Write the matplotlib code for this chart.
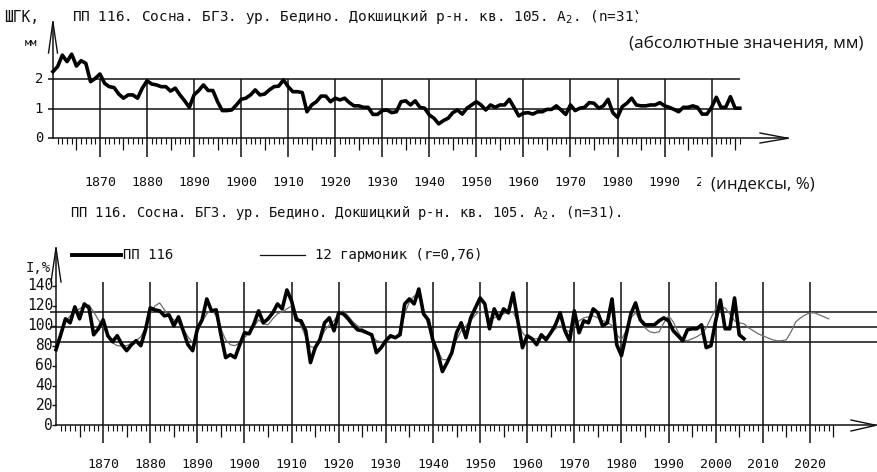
import numpy as np
import matplotlib
matplotlib.use("Agg")
import matplotlib.pyplot as plt
from matplotlib.patches import Rectangle
from matplotlib.transforms import Bbox

W, H = 877, 472
CAD = "DejaVu Sans Mono"
SANS = "Open Sans"
INK = "#111111"

# ---------------- data ----------------
years_obs = np.arange(1860, 2007)
ring_mm = [
    2.26, 2.43, 2.82, 2.60, 2.85, 2.45, 2.63, 2.54, 1.92, 2.03,   # 1860s
    2.18, 1.86, 1.75, 1.72, 1.50, 1.36, 1.47, 1.47, 1.36, 1.70,   # 1870s
    1.95, 1.84, 1.81, 1.75, 1.75, 1.60, 1.70, 1.47, 1.27, 1.05,   # 1880s
    1.47, 1.62, 1.81, 1.62, 1.62, 1.24, 0.94, 0.94, 0.96, 1.13,   # 1890s
    1.32, 1.36, 1.47, 1.64, 1.47, 1.50, 1.64, 1.75, 1.77, 1.98,   # 1900s
    1.75, 1.58, 1.58, 1.55, 0.90, 1.13, 1.24, 1.43, 1.43, 1.24,   # 1910s
    1.36, 1.30, 1.36, 1.21, 1.10, 1.10, 1.05, 1.05, 0.81, 0.81,   # 1920s
    0.94, 0.96, 0.87, 0.90, 1.24, 1.27, 1.13, 1.27, 1.05, 1.02,   # 1930s
    0.79, 0.68, 0.49, 0.60, 0.68, 0.87, 0.96, 0.82, 1.02, 1.13,   # 1940s
    1.24, 1.13, 0.96, 1.13, 1.05, 1.13, 1.13, 1.32, 1.05, 0.76,   # 1950s
    0.85, 0.87, 0.82, 0.90, 0.90, 0.98, 0.98, 1.10, 0.96, 0.81,   # 1960s
    1.13, 0.94, 1.02, 1.05, 1.21, 1.19, 1.02, 1.10, 1.32, 0.87,   # 1970s
    0.71, 1.07, 1.19, 1.36, 1.13, 1.10, 1.10, 1.13, 1.13, 1.21,   # 1980s
    1.10, 1.05, 0.98, 0.90, 1.05, 1.05, 1.10, 1.05, 0.82, 0.82,   # 1990s
    1.05, 1.39, 1.05, 1.05, 1.41, 1.02, 1.02,                     # 2000s
]
index_pct = [
    76, 91, 107, 103, 119, 107, 122, 118, 91, 97,
    106, 90, 84, 90, 81, 75, 81, 85, 80, 96,
    118, 116, 115, 110, 111, 100, 109, 95, 81, 75,
    97, 106, 127, 115, 116, 91, 68, 71, 68, 81,
    93, 92, 102, 115, 103, 107, 113, 122, 117, 136,
    125, 106, 105, 95, 63, 78, 86, 103, 108, 95,
    113, 112, 107, 101, 96, 95, 93, 91, 73, 78,
    85, 90, 88, 91, 122, 127, 122, 137, 112, 106,
    85, 73, 54, 63, 73, 93, 103, 88, 108, 118,
    128, 122, 97, 117, 107, 117, 113, 133, 105, 78,
    90, 87, 81, 91, 86, 93, 101, 113, 95, 85,
    115, 93, 105, 103, 117, 113, 100, 103, 127, 81,
    70, 91, 112, 123, 106, 101, 101, 101, 105, 108,
    105, 95, 90, 85, 96, 97, 97, 101, 78, 80,
    105, 126, 97, 97, 128, 91, 87,
]
years_model = np.arange(1860, 2025)
harmonics_12 = [
    80, 92, 104, 110, 114, 117, 120, 121, 114, 106,
    99, 90, 83, 80, 80, 80, 82, 85, 89, 98,
    112, 120, 123, 116, 110, 106, 103, 97, 89, 83,
    93, 104, 112, 116, 110, 97, 86, 81, 80, 83,
    88, 93, 99, 106, 102, 101, 107, 112, 114, 117,
    120, 112, 100, 89, 79, 78, 85, 95, 101, 105,
    112, 115, 110, 104, 100, 97, 94, 90, 85, 84,
    85, 88, 88, 94, 112, 124, 130, 129, 115, 100,
    88, 75, 66, 66, 74, 86, 95, 100, 105, 111,
    115, 113, 107, 108, 110, 112, 114, 114, 104, 93,
    88, 87, 87, 88, 89, 92, 97, 100, 96, 94,
    100, 105, 108, 109, 110, 108, 105, 104, 100, 91,
    86, 95, 108, 113, 105, 98, 94, 93, 94, 103,
    110, 104, 94, 86, 85, 87, 89, 92, 98, 108,
    117, 118, 118, 112, 105, 103, 102, 98, 95, 92,
    90, 88, 86, 85, 85, 86, 94, 104, 108, 111,
    113, 113, 111, 109, 107,
]
mm_levels = [1, 2]
pct_levels = [84, 99, 114]
mm_ticks = [0, 1, 2]
pct_ticks = [0, 20, 40, 60, 80, 100, 120, 140]

TITLE = "ПП 116. Сосна. БГЗ. ур. Бедино. Докшицкий р-н. кв. 105. A$_2$. (n=31)."

fig = plt.figure(figsize=(W / 100, H / 100), dpi=100)
fig.patch.set_facecolor("white")


def panel(top, bottom, x0, ppy, y0, ppu):
    """Axes spanning figure rows top..bottom (px); year 1860 at x0, value 0 at y0."""
    ax = fig.add_axes([0, 1 - bottom / H, 1, (bottom - top) / H])
    ax.set_xlim(1860 - x0 / ppy, 1860 + (W - x0) / ppy)
    ax.set_ylim((y0 - bottom) / ppu, (y0 - top) / ppu)
    ax.axis("off")
    X = lambda px: 1860 + (px - x0) / ppy
    Y = lambda py: (y0 - py) / ppu
    return ax, X, Y


def ptext(px, py, s, **kw):
    kw.setdefault("family", CAD)
    kw.setdefault("va", "center")
    kw.setdefault("color", INK)
    return fig.text(px / W, 1 - py / H, s, **kw)


# ================= top panel: absolute values, mm =================
ax1, X1, Y1 = panel(0, 200, 52.9, 4.705, 138.3, 29.5)
dec1 = np.arange(1870, 2001, 10)
ax1.hlines(mm_levels, X1(48), 2006, color=INK, lw=1.1)
ax1.vlines(dec1, Y1(157), 2.02, color=INK, lw=1.1)
ax1.plot([1860, X1(788)], [0, 0], color=INK, lw=1.1)
ax1.plot([X1(760), X1(788), X1(760)], [Y1(133), 0, Y1(143)], color=INK, lw=1.0)
ax1.plot([1860, 1860], [0, Y1(22)], color=INK, lw=1.1)
ax1.plot([X1(48.5), 1860, X1(57.5)], [Y1(53), Y1(22), Y1(53)], color=INK, lw=1.0)
yrs1 = np.arange(1861, 2007)
ax1.vlines(yrs1[yrs1 % 5 != 0], Y1(143.5), 0, color=INK, lw=0.8)
ax1.vlines(yrs1[(yrs1 % 5 == 0) & (yrs1 % 10 != 0)], Y1(150), 0, color=INK, lw=0.9)
ax1.hlines(mm_ticks[:1], X1(48), 1860, color=INK, lw=1.1)
ax1.plot(years_obs, ring_mm, color="black", lw=2.6, solid_joinstyle="round")
for v in mm_ticks:
    ptext(43, 138.3 - v * 29.5, str(v), ha="right", fontsize=10)
for yr in dec1:
    t = ptext(52.9 + (yr - 1860) * 4.705, 183, str(yr), ha="center", fontsize=9.5)
    if yr == 2000:   # only a sliver of this label peeks out from under the caption
        t.set_clip_box(Bbox([[0, 0], [701, H]]))
        t.set_clip_on(True)

ptext(4, 17, "ШГК,", fontsize=10.5)
ptext(25, 43, "мм", fontsize=7.5)
ptext(72, 17, TITLE, fontsize=10.4)

# ================= bottom panel: indices, % =================
ax2, X2, Y2 = panel(200, 472, 56, 4.712, 425.3, 0.995)
dec2 = np.arange(1870, 2021, 10)
ax2.hlines(pct_levels, X2(50), X2(877), color=INK, lw=1.1)
ax2.vlines(dec2, Y2(443), Y2(282), color=INK, lw=1.1)
ax2.plot([1860, X2(876)], [0, 0], color=INK, lw=1.1)
ax2.plot([X2(851), X2(876), X2(851)], [Y2(420), 0, Y2(431)], color=INK, lw=1.0)
ax2.plot([1860, 1860], [0, Y2(248)], color=INK, lw=1.1)
ax2.plot([X2(51), 1860, X2(61)], [Y2(282), Y2(248), Y2(282)], color=INK, lw=1.0)
yrs2 = np.arange(1861, 2026)
ax2.vlines(yrs2[yrs2 % 5 != 0], Y2(430.5), 0, color=INK, lw=0.8)
ax2.vlines(yrs2[(yrs2 % 5 == 0) & (yrs2 % 10 != 0)], Y2(437), 0, color=INK, lw=0.9)
ax2.hlines(pct_ticks, X2(52), 1860, color=INK, lw=1.0)
ax2.plot(years_model, harmonics_12, color="#6e6e6e", lw=0.9)
ax2.plot(years_obs, index_pct, color="black", lw=2.6, solid_joinstyle="round")
for v in pct_ticks:
    ptext(53, 425.3 - v * 0.995, str(v), ha="right", fontsize=10.5)
for yr in dec2:
    ptext(56 + (yr - 1860) * 4.712, 465, str(yr), ha="center", fontsize=9.5)

ptext(70, 213, TITLE, fontsize=9.9)
ptext(26, 268, "I,%", fontsize=10)

# legend drawn by hand, as in the original
ax2.plot([X2(72), X2(121)], [Y2(255), Y2(255)], color="black", lw=2.8)
ptext(123, 255, "ПП 116", fontsize=10)
ax2.plot([X2(260), X2(305)], [Y2(255), Y2(255)], color=INK, lw=0.9)
ptext(315, 255, "12 гармоник (r=0,76)", fontsize=10)

# pasted caption on a white box (it hides the end of the original title)
fig.patches.append(Rectangle((637 / W, 1 - 60 / H), (W - 637) / W, 46 / H,
                             transform=fig.transFigure, facecolor="white",
                             edgecolor="none", zorder=5))
ptext(629, 43, "(абсолютные значения, мм)", family=SANS, fontsize=12.4, zorder=6)
ptext(711, 184, "(индексы, %)", family=SANS, fontsize=12.2, zorder=6)

fig.savefig("out.png", dpi=100, facecolor="white")
